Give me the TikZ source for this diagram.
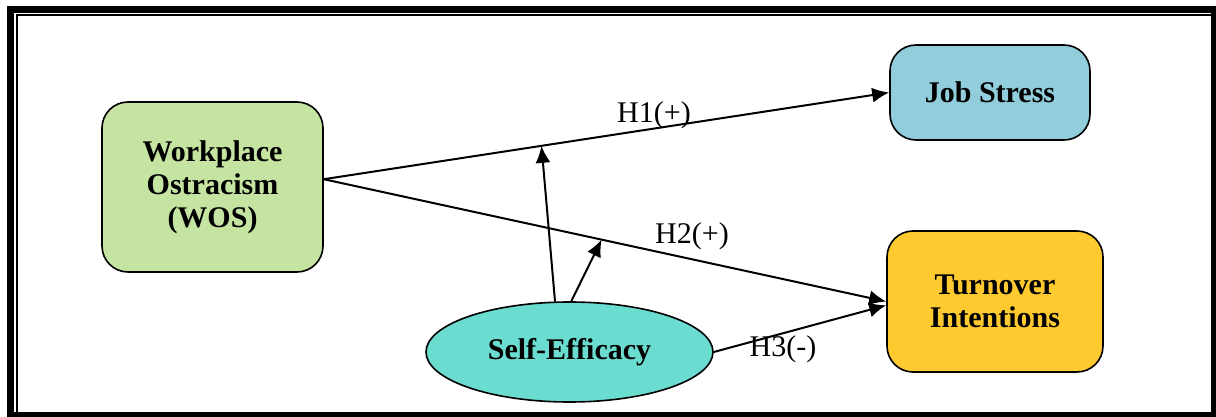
\documentclass[tikz,border=0pt]{standalone}
\usepackage{xcolor}
\usepackage{fontspec}
\setmainfont{Liberation Serif}
\usetikzlibrary{shapes.geometric,arrows.meta}
\definecolor{wosgreen}{RGB}{197,227,161}
\definecolor{stressblue}{RGB}{146,205,220}
\definecolor{turnovergold}{RGB}{255,202,48}
\definecolor{efficacyteal}{RGB}{107,220,208}
\tikzstyle{box}=[rounded corners=26pt, draw, line width=1.6pt, align=center,
  font=\fontsize{30}{33}\selectfont\bfseries]
\tikzstyle{hyp}=[-{Latex[length=17pt,width=15pt]}, line width=2pt]
\tikzstyle{hlabel}=[font=\fontsize{30}{33}\selectfont, inner sep=0pt]

\begin{document}
\begin{tikzpicture}[x=1pt,y=-1pt]
  \useasboundingbox (0,0) rectangle (1216,417);
  %% Frame
  \fill (7,6) rectangle (14.3,417);
  \fill (7,6) rectangle (1216,13.3);
  \fill (1211,6) rectangle (1216,417);
  \fill (7,412) rectangle (1216,417);
  \fill (16,14.3) rectangle (18.3,412);
  \fill (16,14.3) rectangle (1211,16.3);

  \draw (212.5,187) node[box,fill=wosgreen,minimum width=221pt,minimum height=170pt] (wos) {Workplace\\Ostracism\\(WOS)};
  \draw (990,92.5) node[box,fill=stressblue,minimum width=200pt,minimum height=95pt] (js) {Job Stress};
  \draw (995,301.5) node[box,fill=turnovergold,minimum width=216pt,minimum height=141pt] (ti) {Turnover\\Intentions};
  \draw (569.5,352) node[ellipse,draw,line width=1.6pt,fill=efficacyteal,minimum width=287pt,minimum height=100pt,
    font=\fontsize{30}{33}\selectfont\bfseries] (se) {Self-Efficacy};

  \draw[hyp] (wos.4) -- (js.west) coordinate[pos=0.385] (m1);
  \draw[hyp] (wos.4) -- (ti.west) coordinate[pos=0.494] (m2);
  \draw[hyp] (se.east) -- (ti.182);

  \draw[hyp] (se.106) -- (m1);
  \draw[hyp] (se.88) -- (m2);

  \draw (654,115) node[hlabel] (h1) {H1(+)};
  \draw (692,236) node[hlabel] (h2) {H2(+)};
  \draw (783,349) node[hlabel] (h3) {H3(-)};
\end{tikzpicture}
\end{document}
